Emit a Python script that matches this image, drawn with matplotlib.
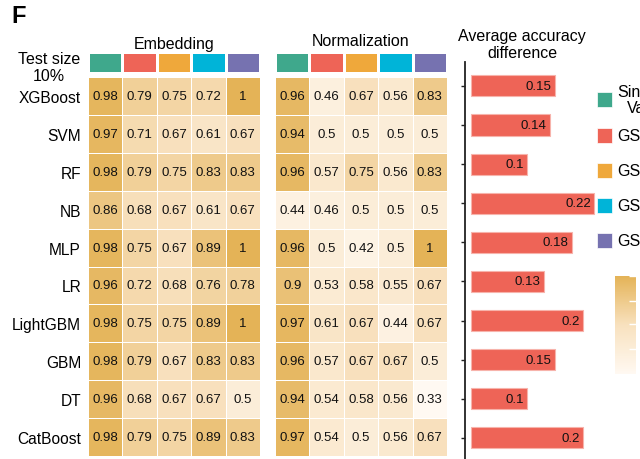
import numpy as np
import matplotlib
matplotlib.use("Agg")
import matplotlib.pyplot as plt
from matplotlib.colors import LinearSegmentedColormap, ListedColormap, Normalize
from matplotlib.cm import ScalarMappable
from matplotlib.patches import Rectangle

plt.rcParams['font.family'] = ['Liberation Sans', 'DejaVu Sans']

# models (rows) and methods (columns)
models = ['XGBoost', 'SVM', 'RF', 'NB', 'MLP', 'LR', 'LightGBM', 'GBM', 'DT', 'CatBoost']
methods = ['Singular\nValue', 'GSE1', 'GSE2', 'GSE3', 'GSE4']
method_colors = ['#3FA88C', '#EE6457', '#EFA83B', '#00B4D8', '#7672B0']

embedding = [
    [0.98, 0.79, 0.75, 0.72, 1],
    [0.97, 0.71, 0.67, 0.61, 0.67],
    [0.98, 0.79, 0.75, 0.83, 0.83],
    [0.86, 0.68, 0.67, 0.61, 0.67],
    [0.98, 0.75, 0.67, 0.89, 1],
    [0.96, 0.72, 0.68, 0.76, 0.78],
    [0.98, 0.75, 0.75, 0.89, 1],
    [0.98, 0.79, 0.67, 0.83, 0.83],
    [0.96, 0.68, 0.67, 0.67, 0.5],
    [0.98, 0.79, 0.75, 0.89, 0.83],
]
normalization = [
    [0.96, 0.46, 0.67, 0.56, 0.83],
    [0.94, 0.5, 0.5, 0.5, 0.5],
    [0.96, 0.57, 0.75, 0.56, 0.83],
    [0.44, 0.46, 0.5, 0.5, 0.5],
    [0.96, 0.5, 0.42, 0.5, 1],
    [0.9, 0.53, 0.58, 0.55, 0.67],
    [0.97, 0.61, 0.67, 0.44, 0.67],
    [0.96, 0.57, 0.67, 0.67, 0.5],
    [0.94, 0.54, 0.58, 0.56, 0.33],
    [0.97, 0.54, 0.5, 0.56, 0.67],
]
avg_diff = [0.15, 0.14, 0.1, 0.22, 0.18, 0.13, 0.2, 0.15, 0.1, 0.2]

W, H = 640, 460
fig = plt.figure(figsize=(W / 100, H / 100), dpi=100)


def px_axes(x0, y0, x1, y1):
    # axes placed by pixel box (top-left origin)
    return fig.add_axes([x0 / W, 1 - y1 / H, (x1 - x0) / W, (y1 - y0) / H])


cmap = LinearSegmentedColormap.from_list(
    'acc', [(0.0, '#FFF9F2'), (0.5, '#F8E1BE'), (1.0, '#E4B357')])
norm = Normalize(vmin=0.33, vmax=1.0)
header_cmap = ListedColormap(method_colors)


def heat(x0, x1, values, title, title_y):
    vals = np.array(values)
    ax = px_axes(x0, 78, x1, 457)
    ax.pcolormesh(vals, cmap=cmap, norm=norm, edgecolors='#FFFFFF', linewidth=0.7)
    ax.set_xlim(0, vals.shape[1])
    ax.set_ylim(vals.shape[0], 0)
    for i in range(vals.shape[0]):
        for j in range(vals.shape[1]):
            ax.text(j + 0.5, i + 0.5, f"{vals[i, j]:g}", ha='center', va='center',
                    fontsize=9.5, color='#111111')
    ax.set_xticks([])
    ax.set_yticks([])
    for s in ax.spines.values():
        s.set_visible(False)

    hx = px_axes(x0, 53, x1, 74)
    hx.pcolormesh(np.arange(5).reshape(1, 5), cmap=header_cmap, vmin=-0.5, vmax=4.5,
                  edgecolors='white', linewidth=0.9)
    hx.set_xticks([])
    hx.set_yticks([])
    for s in hx.spines.values():
        s.set_visible(False)
    fig.text((x0 + x1) / 2 / W, 1 - title_y / H, title, ha='center', va='center',
             fontsize=11.5)
    return ax


ax1 = heat(88, 260, embedding, 'Embedding', 44)
ax1.set_yticks(np.arange(len(models)) + 0.5)
ax1.set_yticklabels(models, fontsize=11.2)
ax1.tick_params(axis='y', length=0, pad=5)
heat(275, 447, normalization, 'Normalization', 42)

fig.text(11 / W, 1 - 5 / H, 'F', fontsize=17, fontweight='bold', va='top', ha='left')
fig.text(49 / W, 1 - 68 / H, 'Test size\n10%', fontsize=11.5, ha='center', va='center',
         multialignment='center', linespacing=1.2)

# bar panel
bx = px_axes(465, 63, 600, 460)
ypos = np.arange(len(avg_diff))
bx.barh(ypos, avg_diff, height=0.54, color='#EE6457', edgecolor='#F7B3AB', linewidth=0.8)
for y, v in zip(ypos, avg_diff):
    bx.text(v - 0.006, y, f"{v:g}", ha='right', va='center', fontsize=9.5, color='#111111')
bx.set_xlim(-0.011, 0.23)
bx.set_ylim(9.54, -0.61)
bx.set_yticks(ypos)
bx.set_yticklabels([])
bx.set_xticks([])
bx.tick_params(axis='y', length=3, width=1, color='#222222')
for s in ['top', 'right', 'bottom']:
    bx.spines[s].set_visible(False)
bx.spines['left'].set_linewidth(1.3)
bx.spines['left'].set_color('#222222')
fig.text(522 / W, 1 - 45 / H, 'Average accuracy\ndifference', fontsize=11.5, ha='center',
         va='center', multialignment='center', linespacing=1.25)

# method legend
sq_tops = [93, 129, 164, 199, 234]
for top, lab, col in zip(sq_tops, methods, method_colors):
    fig.patches.append(Rectangle((597 / W, 1 - (top + 15) / H), 15 / W, 15 / H,
                                 transform=fig.transFigure, facecolor=col,
                                 edgecolor='white', linewidth=0.5))
    fig.text(617 / W, 1 - (top + 7.5) / H, lab, fontsize=11.5, ha='left', va='center',
             multialignment='center', linespacing=1.15)

# colour bar
cax = px_axes(615, 277, 636, 375)
cb = fig.colorbar(ScalarMappable(norm=norm, cmap=cmap), cax=cax)
cb.outline.set_visible(False)
cb.set_ticks([0.5, 0.67, 0.83, 1.0])
cb.ax.tick_params(direction='in', color='white', length=5, width=1, labelright=False)

fig.savefig('out.png', dpi=100)
